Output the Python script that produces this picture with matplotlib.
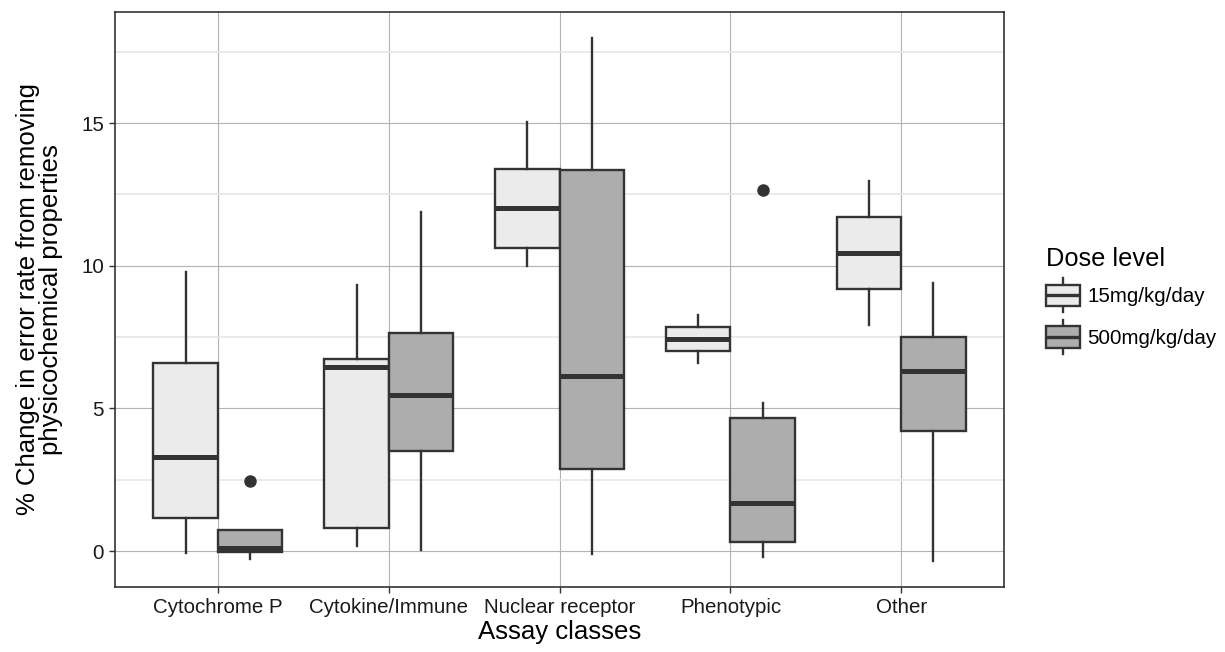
import numpy as np
import matplotlib
matplotlib.use("Agg")
import matplotlib.pyplot as plt
from matplotlib.legend_handler import HandlerBase
from matplotlib.patches import Rectangle
from matplotlib.lines import Line2D

plt.rcParams['font.family'] = ['Liberation Sans', 'DejaVu Sans']

# Data
categories = ["Cytochrome P", "Cytokine/Immune", "Nuclear receptor", "Phenotypic", "Other"]
doses = ["15mg/kg/day", "500mg/kg/day"]

# 15mg/kg/day
low_whislo = [-0.06, 0.18, 9.99, 6.60, 7.92]
low_q1     = [1.15, 0.82, 10.61, 7.01, 9.17]
low_med    = [3.31, 6.46, 12.01, 7.43, 10.43]
low_q3     = [6.58, 6.73, 13.38, 7.86, 11.72]
low_whishi = [9.79, 9.32, 15.05, 8.27, 12.98]
low_fliers = [[], [], [], [], []]

# 500mg/kg/day
high_whislo = [-0.28, 0.04, -0.11, -0.20, -0.35]
high_q1     = [-0.02, 3.52, 2.86, 0.33, 4.21]
high_med    = [0.10, 5.47, 6.15, 1.69, 6.31]
high_q3     = [0.74, 7.63, 13.35, 4.67, 7.51]
high_whishi = [0.74, 11.89, 17.97, 5.18, 9.40]
high_fliers = [[2.46], [], [], [12.65], []]

fill_colors = ["#EBEBEB", "#ADADAD"]
edge = "#333333"


def make_stats(wlo, q1, med, q3, whi, fl):
    return [dict(whislo=a, q1=b, med=c, q3=d, whishi=e, fliers=f)
            for a, b, c, d, e, f in zip(wlo, q1, med, q3, whi, fl)]


fig = plt.figure(figsize=(12.25, 6.52), dpi=100)
ax = fig.add_axes([0.0939, 0.0997, 0.7257, 0.8819])

x = np.arange(1, len(categories) + 1)
offset = 0.1875
width = 0.375

groups = [
    make_stats(low_whislo, low_q1, low_med, low_q3, low_whishi, low_fliers),
    make_stats(high_whislo, high_q1, high_med, high_q3, high_whishi, high_fliers),
]
for i, stats in enumerate(groups):
    pos = x + (-offset if i == 0 else offset)
    ax.bxp(stats, positions=pos, widths=width, patch_artist=True, showcaps=False,
           boxprops=dict(facecolor=fill_colors[i], edgecolor=edge, linewidth=1.7),
           whiskerprops=dict(color=edge, linewidth=1.7),
           medianprops=dict(color=edge, linewidth=3.6, solid_capstyle='butt'),
           flierprops=dict(marker='o', markerfacecolor=edge, markeredgecolor=edge,
                           markersize=8),
           manage_ticks=False, zorder=3)

ax.set_xlim(0.4, 5.6)
ax.set_ylim(-1.26, 18.89)
ax.set_xticks(x)
ax.set_xticklabels(categories)
ax.set_yticks([0, 5, 10, 15])
ax.set_yticks([2.5, 7.5, 12.5, 17.5], minor=True)
ax.tick_params(axis='both', which='major', labelsize=14.8, length=4, width=1,
               color=edge, labelcolor='#1a1a1a', pad=4)
ax.tick_params(axis='y', which='minor', length=0)

ax.grid(True, which='major', color='#b3b3b3', linewidth=0.8, zorder=0)
ax.grid(True, which='minor', axis='y', color='#e6e6e6', linewidth=1.2, zorder=0)
ax.set_axisbelow(True)
for s in ax.spines.values():
    s.set_color(edge)
    s.set_linewidth(1.2)

ax.set_xlabel("Assay classes", fontsize=18.5, labelpad=2)
ax.set_ylabel("% Change in error rate from removing\nphysicochemical properties",
              fontsize=18.5, labelpad=13, linespacing=0.95)


# legend keys drawn like small boxplots
class BoxHandler(HandlerBase):
    def create_artists(self, legend, orig_handle, xdescent, ydescent,
                       width, height, fontsize, trans):
        fc = orig_handle.get_facecolor()
        cx = width / 2 - xdescent
        bw = width
        bh = height * 1.15
        y0 = height / 2 - bh / 2 - ydescent
        rect = Rectangle((cx - bw / 2, y0), bw, bh, facecolor=fc,
                         edgecolor=edge, linewidth=1.7, transform=trans)
        med = Line2D([cx - bw / 2, cx + bw / 2], [y0 + bh / 2] * 2,
                     color=edge, linewidth=2.4, transform=trans,
                     solid_capstyle='butt')
        wt = Line2D([cx, cx], [y0 + bh, y0 + bh + height * 0.35],
                    color=edge, linewidth=1.7, transform=trans)
        wb = Line2D([cx, cx], [y0, y0 - height * 0.35],
                    color=edge, linewidth=1.7, transform=trans)
        return [wt, wb, rect, med]


handles = [Rectangle((0, 0), 1, 1, facecolor=c) for c in fill_colors]
leg = fig.legend(handles, doses, handler_map={Rectangle: BoxHandler()},
                 loc='upper left', bbox_to_anchor=(0.839, 0.650),
                 title="Dose level", title_fontsize=18.3, fontsize=14.8,
                 frameon=False, handlelength=1.66, handleheight=1.0,
                 labelspacing=1.05, handletextpad=0.35)
leg._legend_box.align = "left"
leg._legend_box.sep = 11

fig.savefig("out.png", dpi=100)
